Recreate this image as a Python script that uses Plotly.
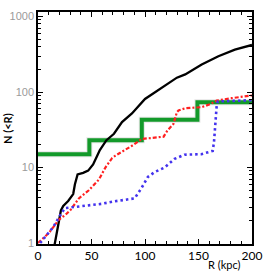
import plotly.graph_objects as go

# Black curve (all satellites)
black_R = [15.5, 18.3, 21.4, 23.6, 28.2, 32.9, 34.5, 37, 42.2, 46.9, 51.5, 55, 57.8, 64, 71, 78.5, 87.8, 100, 109.6, 119, 129.8, 137.6, 153, 168.6, 184, 200]
black_N = [0.95, 1.48, 2.7, 3.1, 3.6, 4.45, 6.0, 8.1, 8.5, 9.1, 11, 14, 17, 23, 28, 40, 52, 81, 99, 121, 155, 171, 231, 298, 364, 420]

# Red dash-dot curve
red_R = [0, 10.2, 19.6, 25.8, 30.5, 38.2, 47.5, 56.8, 63, 69.2, 72.4, 81.7, 87.8, 97.2, 109.6, 117.4, 121, 126.7, 129.8, 131.3, 137.6, 153, 160.8, 167, 181, 196.6, 200]
red_N = [1, 1.36, 2.04, 2.37, 2.75, 3.9, 5.0, 6.9, 10, 13.3, 14.4, 17.2, 19.4, 23.9, 24.8, 25.6, 31, 38, 54, 57, 61, 63, 69, 77, 83, 88, 90]

# Blue dotted curve
blue_R = [2, 6.5, 14.3, 20.5, 25.1, 31.3, 43.8, 59.3, 71.7, 90.3, 96.6, 102.7, 109, 118.3, 127.6, 136.9, 152.5, 163.3, 164.5, 165.5, 167, 168, 184, 200]
blue_N = [1, 1.2, 1.63, 2.3, 2.9, 2.97, 3.13, 3.3, 3.57, 3.9, 5.3, 7.5, 8.7, 10, 13, 14.8, 15, 16.6, 22, 36, 66, 75, 76, 78]

# Green step function
green_R = [0, 48, 97, 149, 200]
green_N = [15, 23, 43, 73, 73]

x_ticks = [0, 50, 100, 150, 200]
y_ticks = [1, 10, 100, 1000]

fig = go.Figure()
fig.add_trace(go.Scatter(x=green_R, y=green_N, mode="lines", line=dict(color="rgba(170,170,170,0.3)", width=6, shape="hv"), hoverinfo="skip"))
fig.add_trace(go.Scatter(x=green_R, y=green_N, mode="lines", line=dict(color="#139a2a", width=4, shape="hv")))
fig.add_trace(go.Scatter(x=black_R, y=black_N, mode="lines", line=dict(color="black", width=2.3)))
fig.add_trace(go.Scatter(x=red_R, y=red_N, mode="lines", line=dict(color="#ff2020", width=2.2, dash="4px,2px,2px,2px")))
fig.add_trace(go.Scatter(x=blue_R, y=blue_N, mode="lines", line=dict(color="#4433ee", width=2.6, dash="2.5px,3px")))

fig.update_layout(
    width=272, height=273,
    margin=dict(l=38, r=19, t=10, b=29),
    paper_bgcolor="white", plot_bgcolor="white",
    showlegend=False,
    font=dict(family="Lato, Open Sans, sans-serif", color="black"),
)
fig.update_xaxes(
    range=[0, 200], tickvals=x_ticks, ticktext=[str(v) for v in x_ticks],
    ticks="inside", ticklen=5, tickcolor="black", tickwidth=1,
    showline=True, linecolor="black", linewidth=1.5, mirror="allticks",
    showgrid=False, zeroline=False,
    tickfont=dict(size=12, color="black"),
    minor=dict(dtick=10, ticks="inside", ticklen=3, tickcolor="black", showgrid=False),
)
fig.update_yaxes(
    type="log", range=[-0.013, 3.06], tickvals=y_ticks, ticktext=[str(v) for v in y_ticks],
    ticks="inside", ticklen=5, tickcolor="black", tickwidth=1,
    showline=True, linecolor="black", linewidth=1.5, mirror="allticks",
    showgrid=False, zeroline=False,
    tickfont=dict(size=11, color="#9a9a9a", family="Liberation Sans, Arial, sans-serif"),
    minor=dict(dtick="D1", ticks="inside", ticklen=3, tickcolor="black", showgrid=False),
)
fig.add_annotation(text="<b>N (&lt;R)</b>", xref="paper", yref="paper", x=-0.145, y=0.5,
                   textangle=-90, showarrow=False, font=dict(size=11, color="black"),
                   xanchor="center", yanchor="middle")
fig.add_annotation(text="R (kpc)", xref="paper", yref="paper", x=0.87, y=-0.09,
                   showarrow=False, font=dict(size=11, color="black"),
                   xanchor="center", yanchor="middle")
fig.write_html(
    "out.html",
    config={"displayModeBar": False},
    post_script="document.body.style.margin='0';document.body.style.overflow='hidden';",
)
